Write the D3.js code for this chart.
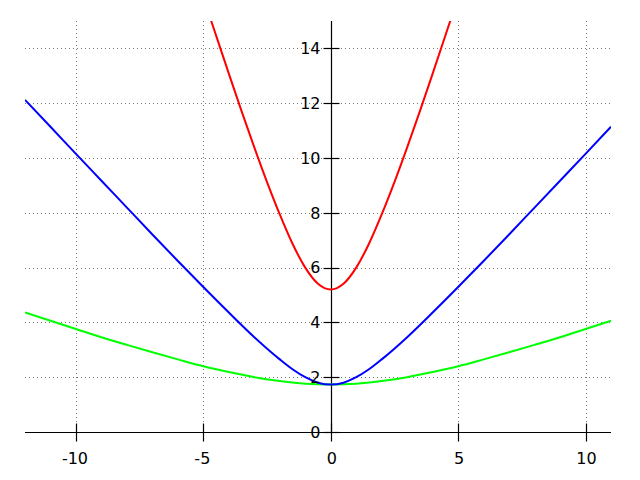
<!DOCTYPE html>
<html>
<head>
<meta charset="utf-8">
<script src="https://cdn.jsdelivr.net/npm/d3@7"></script>
<style>
  html, body { margin: 0; padding: 0; background: #fff; }
  svg { display: block; }
  text { font-family: "DejaVu Sans", sans-serif; font-size: 16px; fill: #000; }
</style>
</head>
<body>
<svg id="chart" width="640" height="480"></svg>
<script>
// ---- data ----
const xTicks = [-10, -5, 0, 5, 10];
const xTickLabels = ["-10", "-5", "0", "5", "10"];
const yTicks = [0, 2, 4, 6, 8, 10, 12, 14];
const yTickLabels = ["0", "2", "4", "6", "8", "10", "12", "14"];

const blueX = [-12, -11, -10, -9, -8, -7, -6, -5, -4, -3, -2, -1.5, -1, -0.5, 0, 0.5, 1, 1.5, 2, 3, 4, 5, 6, 7, 8, 9, 10, 11];
const blueY = [12.12, 11.14, 10.15, 9.17, 8.19, 7.21, 6.24, 5.29, 4.36, 3.46, 2.65, 2.29, 2.00, 1.80, 1.73, 1.80, 2.00, 2.29, 2.65, 3.46, 4.36, 5.29, 6.24, 7.21, 8.19, 9.17, 10.15, 11.14];

const greenX = [-12, -11, -10, -9, -8, -7, -6, -5, -4, -3, -2, -1, 0, 1, 2, 3, 4, 5, 6, 7, 8, 9, 10, 11];
const greenY = [4.36, 4.06, 3.76, 3.46, 3.18, 2.91, 2.65, 2.40, 2.19, 2.00, 1.86, 1.76, 1.73, 1.76, 1.86, 2.00, 2.19, 2.40, 2.65, 2.91, 3.18, 3.46, 3.76, 4.06];

const redX = [-5, -4.5, -4, -3.5, -3, -2.5, -2, -1.5, -1, -0.5, 0, 0.5, 1, 1.5, 2, 2.5, 3, 3.5, 4, 4.5, 5];
const redY = [15.87, 14.47, 13.08, 11.71, 10.39, 9.12, 7.94, 6.87, 6.00, 5.41, 5.20, 5.41, 6.00, 6.87, 7.94, 9.12, 10.39, 11.71, 13.08, 14.47, 15.87];

// ---- layout ----
const svg = d3.select("#chart");
const x = d3.scaleLinear().domain([-12, 11]).range([25, 611]);
const y = d3.scaleLinear().domain([0, 15]).range([432, 21]);

const pLeft = x.range()[0], pRight = x.range()[1];
const pTop = y.range()[1], pBottom = y.range()[0];

svg.append("defs").append("clipPath").attr("id", "clip")
  .append("rect").attr("x", pLeft).attr("y", pTop)
  .attr("width", pRight - pLeft).attr("height", pBottom - pTop);

// grid
const grid = svg.append("g").attr("stroke", "#777").attr("stroke-width", 1)
  .attr("stroke-dasharray", "1,3").attr("fill", "none");
grid.selectAll("line.vx").data(xTicks.filter(d => d !== 0)).join("line")
  .attr("x1", d => Math.round(x(d)) + 0.5).attr("x2", d => Math.round(x(d)) + 0.5)
  .attr("y1", pTop).attr("y2", pBottom);
grid.selectAll("line.hy").data(yTicks.filter(d => d !== 0)).join("line")
  .attr("y1", d => Math.round(y(d)) + 0.5).attr("y2", d => Math.round(y(d)) + 0.5)
  .attr("x1", pLeft).attr("x2", pRight);

// axes through origin
const x0 = Math.round(x(0)) + 0.5;
const y0 = Math.round(y(0)) + 0.5;
const axes = svg.append("g").attr("stroke", "#000").attr("stroke-width", 1.2);
axes.append("line").attr("x1", pLeft).attr("x2", pRight).attr("y1", y0).attr("y2", y0);
axes.append("line").attr("x1", x0).attr("x2", x0).attr("y1", pTop).attr("y2", pBottom);

// x ticks
axes.selectAll("line.xt").data(xTicks).join("line")
  .attr("x1", d => Math.round(x(d)) + 0.5).attr("x2", d => Math.round(x(d)) + 0.5)
  .attr("y1", y0 - 9).attr("y2", y0 + 9);
// y ticks
axes.selectAll("line.yt").data(yTicks).join("line")
  .attr("y1", d => Math.round(y(d)) + 0.5).attr("y2", d => Math.round(y(d)) + 0.5)
  .attr("x1", x0 - 8).attr("x2", x0 + 8);

// curves
const line = d3.line().x(d => x(d[0])).y(d => y(d[1])).curve(d3.curveMonotoneX);
const curves = svg.append("g").attr("clip-path", "url(#clip)").attr("fill", "none").attr("stroke-width", 2);
curves.append("path").datum(d3.zip(greenX, greenY)).attr("stroke", "#00ff00").attr("d", line);
curves.append("path").datum(d3.zip(blueX, blueY)).attr("stroke", "#0000ff").attr("d", line);
curves.append("path").datum(d3.zip(redX, redY)).attr("stroke", "#ff0000").attr("d", line);

// tick labels
const labels = svg.append("g");
labels.selectAll("text.xl").data(xTicks).join("text")
  .attr("x", (d, i) => x(d) + (d < 0 ? -1 : 1))
  .attr("y", 464)
  .attr("text-anchor", "middle")
  .text((d, i) => xTickLabels[i]);
labels.selectAll("text.yl").data(yTicks).join("text")
  .attr("x", 320.5)
  .attr("y", d => y(d))
  .attr("dy", "0.36em")
  .attr("text-anchor", "end")
  .text((d, i) => yTickLabels[i]);
</script>
</body>
</html>
